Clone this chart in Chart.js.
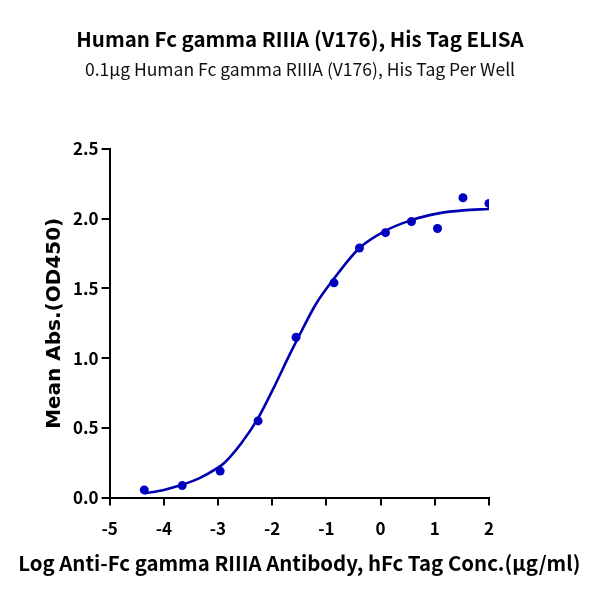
<!DOCTYPE html>
<html>
<head>
<meta charset="utf-8">
<script src="https://cdn.jsdelivr.net/npm/chart.js@4"></script>
<style>
  html, body { margin: 0; padding: 0; background: #ffffff; }
  #wrap { width: 600px; height: 600px; }
</style>
</head>
<body>
<div id="wrap"><canvas id="c" width="600" height="600"></canvas></div>
<script>
// ---- data ----
const titleText = 'Human Fc gamma RIIIA (V176), His Tag ELISA';
const subtitleText = '0.1\u03bcg Human Fc gamma RIIIA (V176), His Tag Per Well';
const xAxisTitle = 'Log Anti-Fc gamma RIIIA Antibody, hFc Tag Conc.(\u03bcg/ml)';
const yAxisTitle = 'Mean Abs.(OD450)';

// measured points
const pointX = [-4.36, -3.66, -2.96, -2.26, -1.56, -0.86, -0.39, 0.09, 0.57, 1.05, 1.52, 2.0];
const pointY = [0.055, 0.086, 0.19, 0.55, 1.15, 1.54, 1.79, 1.90, 1.98, 1.93, 2.15, 2.11];

// fitted curve
const curveX = [-4.35, -4.0, -3.68, -3.34, -3.0, -2.88, -2.57, -2.26, -1.956, -1.71, -1.555, -1.19, -0.88, -0.39, 0.07, 0.57, 1.09, 1.52, 2.0];
const curveY = [0.03, 0.055, 0.09, 0.14, 0.215, 0.25, 0.39, 0.57, 0.80, 1.00, 1.12, 1.39, 1.56, 1.79, 1.91, 1.99, 2.04, 2.06, 2.07];

const xMin = -5, xMax = 2, xStep = 1;
const yMin = 0, yMax = 2.5, yStep = 0.5;

const FONT = '"Noto Sans CJK SC", "Source Sans Pro", "Noto Sans", sans-serif';
const YFONT = '"DejaVu Sans", Verdana, sans-serif';

const curveData = curveX.map((x, i) => ({ x: x, y: curveY[i] }));
const pointData = pointX.map((x, i) => ({ x: x, y: pointY[i] }));

// titles centred on the whole canvas (no width squeezing)
const headerPlugin = {
  id: 'header',
  afterDraw(chart) {
    const ctx = chart.ctx;
    const cx = chart.width / 2;
    ctx.save();
    ctx.fillStyle = '#000';
    ctx.textAlign = 'center';
    ctx.textBaseline = 'middle';
    ctx.font = 'bold 20.5px ' + FONT;
    ctx.fillText(titleText, cx, 39);
    ctx.fillStyle = '#111';
    ctx.font = 'normal 17.5px ' + FONT;
    ctx.fillText(subtitleText, cx, 69);
    ctx.fillStyle = '#000';
    ctx.font = 'bold 20.4px ' + FONT;
    const ca = chart.chartArea;
    ctx.fillText(xAxisTitle, (ca.left + ca.right) / 2, 563);
    ctx.restore();
  }
};

new Chart(document.getElementById('c').getContext('2d'), {
  type: 'scatter',
  data: {
    datasets: [
      {
        type: 'line',
        data: curveData,
        borderColor: '#0000b0',
        borderWidth: 2.6,
        pointRadius: 0,
        fill: false,
        cubicInterpolationMode: 'monotone',
        tension: 0.4
      },
      {
        type: 'scatter',
        data: pointData,
        backgroundColor: '#0000c4',
        borderColor: '#0000c4',
        borderWidth: 0,
        pointRadius: 4.5
      }
    ]
  },
  options: {
    responsive: false,
    animation: false,
    layout: { padding: { top: 149, left: 40, right: 111, bottom: 48 } },
    plugins: {
      legend: { display: false },
      tooltip: { enabled: false },
      title: { display: false },
      subtitle: { display: false }
    },
    scales: {
      x: {
        type: 'linear',
        min: xMin, max: xMax,
        ticks: {
          stepSize: xStep,
          color: '#000',
          font: { family: FONT, size: 17, weight: 'bold' },
          padding: 13,
          maxRotation: 0
        },
        grid: { drawOnChartArea: false, drawTicks: true, tickLength: 8, color: '#000', lineWidth: 2 },
        border: { display: true, color: '#000', width: 2 },
        title: { display: false }
      },
      y: {
        type: 'linear',
        min: yMin, max: yMax,
        ticks: {
          stepSize: yStep,
          color: '#000',
          font: { family: FONT, size: 17, weight: 'bold' },
          padding: 3,
          callback: v => Number(v).toFixed(1)
        },
        grid: { drawOnChartArea: false, drawTicks: true, tickLength: 8, color: '#000', lineWidth: 2 },
        border: { display: true, color: '#000', width: 2 },
        title: {
          display: true,
          text: yAxisTitle,
          color: '#000',
          font: { family: YFONT, size: 20, weight: 'bold' },
          padding: { top: 3, bottom: 3 }
        }
      }
    }
  },
  plugins: [headerPlugin]
});
</script>
</body>
</html>
